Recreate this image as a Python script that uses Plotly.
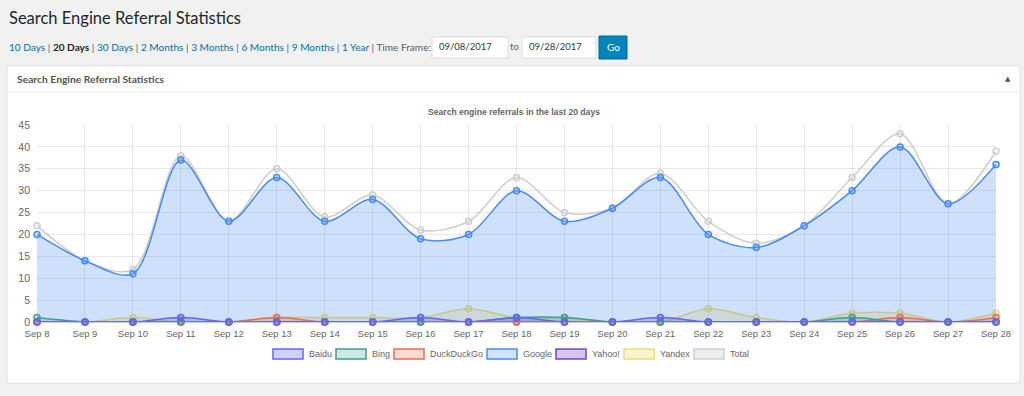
import plotly.graph_objects as go

days = ["Sep 8", "Sep 9", "Sep 10", "Sep 11", "Sep 12", "Sep 13", "Sep 14", "Sep 15", "Sep 16", "Sep 17",
        "Sep 18", "Sep 19", "Sep 20", "Sep 21", "Sep 22", "Sep 23", "Sep 24", "Sep 25", "Sep 26", "Sep 27", "Sep 28"]
baidu = [0, 0, 0, 1, 0, 0, 0, 0, 1, 0, 1, 0, 0, 1, 0, 0, 0, 0, 0, 0, 0]
bing = [1, 0, 0, 0, 0, 0, 0, 0, 0, 0, 1, 1, 0, 0, 0, 0, 0, 1, 0, 0, 0]
duckduckgo = [0, 0, 0, 0, 0, 1, 0, 0, 0, 0, 0, 0, 0, 0, 0, 0, 0, 0, 1, 0, 1]
google = [20, 14, 11, 37, 23, 33, 23, 28, 19, 20, 30, 23, 26, 33, 20, 17, 22, 30, 40, 27, 36]
yahoo = [0, 0, 0, 0, 0, 0, 0, 0, 0, 0, 0, 0, 0, 0, 0, 0, 0, 0, 0, 0, 0]
yandex = [0, 0, 1, 0, 0, 1, 1, 1, 1, 3, 1, 1, 0, 0, 3, 1, 0, 2, 2, 0, 2]
total = [22, 14, 12, 38, 23, 35, 24, 29, 21, 23, 33, 25, 26, 34, 23, 18, 22, 33, 43, 27, 39]

names = ["Baidu", "Bing", "DuckDuckGo", "Google", "Yahoo!", "Yandex", "Total"]
values = [baidu, bing, duckduckgo, google, yahoo, yandex, total]
line_colors = ["rgb(100,100,245)", "rgb(60,160,140)", "rgb(235,110,80)", "rgb(70,140,245)",
               "rgb(120,70,190)", "rgb(240,220,110)", "rgb(205,205,205)"]
fill_colors = ["rgba(100,100,245,0.3)", "rgba(60,160,140,0.25)", "rgba(235,110,80,0.25)",
               "rgba(70,140,245,0.25)", "rgba(120,70,190,0.3)", "rgba(240,220,110,0.3)",
               "rgba(225,225,225,0.1)"]

W, H = 1024, 396
ML, MR, MT, MB = 37, 28, 125, 74
pw, ph = W - ML - MR, H - MT - MB


def px(x):
    return (x - ML) / pw


def py(y):
    return (H - MB - y) / ph


fig = go.Figure()
# draw in reverse so the first dataset ends on top (like Chart.js)
for i in reversed(range(len(names))):
    fig.add_trace(go.Scatter(
        x=days, y=values[i], name=names[i], mode="lines+markers",
        line=dict(color=line_colors[i], width=1.5, shape="spline", smoothing=0.9),
        fill="tozeroy", fillcolor=fill_colors[i],
        marker=dict(size=6, color=fill_colors[i], line=dict(color=line_colors[i], width=1.5)),
        cliponaxis=False, showlegend=False,
    ))

shapes = [
    dict(type="rect", xref="paper", yref="paper", x0=px(7), x1=px(1020), y0=py(66), y1=py(383),
         layer="below", line=dict(color="#e2e4e7", width=1), fillcolor="white"),
    dict(type="line", xref="paper", yref="paper", x0=px(7), x1=px(1020), y0=py(92), y1=py(92),
         layer="below", line=dict(color="#eeeeee", width=1)),
    dict(type="rect", xref="paper", yref="paper", x0=px(432), x1=px(508), y0=py(37), y1=py(58),
         layer="below", line=dict(color="#dddddd", width=1), fillcolor="white"),
    dict(type="rect", xref="paper", yref="paper", x0=px(522), x1=px(596), y0=py(37), y1=py(58),
         layer="below", line=dict(color="#dddddd", width=1), fillcolor="white"),
    dict(type="rect", xref="paper", yref="paper", x0=px(599), x1=px(627), y0=py(36), y1=py(59),
         layer="below", line=dict(color="#006799", width=1), fillcolor="#0085ba"),
]

blue = "#0073aa"
sep = '<span style="color:#555d66"> | </span>'
links = sep.join([
    f'<span style="color:{blue}">10 Days</span>',
    '<b><span style="color:#23282d">20 Days</span></b>',
    f'<span style="color:{blue}">30 Days</span>',
    f'<span style="color:{blue}">2 Months</span>',
    f'<span style="color:{blue}">3 Months</span>',
    f'<span style="color:{blue}">6 Months</span>',
    f'<span style="color:{blue}">9 Months</span>',
    f'<span style="color:{blue}">1 Year</span>',
]) + '<span style="color:#555d66"> | Time Frame:</span>'

ui_font = "Lato"
annotations = [
    dict(text="Search Engine Referral Statistics", x=px(7), y=py(18), xref="paper", yref="paper",
         xanchor="left", yanchor="middle", showarrow=False,
         font=dict(family=ui_font, size=16.5, color="#23282d")),
    dict(text=links, x=px(7), y=py(47), xref="paper", yref="paper", xanchor="left", yanchor="middle",
         showarrow=False, font=dict(family=ui_font, size=10.1, color=blue)),
    dict(text="09/08/2017", x=px(437), y=py(47), xref="paper", yref="paper", xanchor="left", yanchor="middle",
         showarrow=False, font=dict(family=ui_font, size=9.5, color="#32373c")),
    dict(text="to", x=px(514), y=py(47), xref="paper", yref="paper", xanchor="center", yanchor="middle",
         showarrow=False, font=dict(family=ui_font, size=9.5, color="#555d66")),
    dict(text="09/28/2017", x=px(527), y=py(47), xref="paper", yref="paper", xanchor="left", yanchor="middle",
         showarrow=False, font=dict(family=ui_font, size=9.5, color="#32373c")),
    dict(text="Go", x=px(613), y=py(47), xref="paper", yref="paper", xanchor="center", yanchor="middle",
         showarrow=False, font=dict(family=ui_font, size=10, color="white")),
    dict(text="<b>Search Engine Referral Statistics</b>", x=px(15), y=py(79), xref="paper", yref="paper",
         xanchor="left", yanchor="middle", showarrow=False,
         font=dict(family=ui_font, size=10.3, color="#555")),
    dict(text="▲", x=px(1008), y=py(79), xref="paper", yref="paper", xanchor="center", yanchor="middle",
         showarrow=False, font=dict(family="DejaVu Sans", size=7, color="#555")),
    dict(text="<b>Search engine referrals in the last 20 days</b>", x=px(514), y=py(112), xref="paper",
         yref="paper", xanchor="center", yanchor="middle", showarrow=False,
         font=dict(family="Liberation Sans", size=8.6, color="#666")),
]

# Chart.js-style legend: bordered boxes followed by labels
legend_box_x = [273, 336, 394, 487, 556, 624, 694]
for i, name in enumerate(names):
    x0 = legend_box_x[i]
    shapes.append(dict(type="rect", xref="paper", yref="paper", x0=px(x0), x1=px(x0 + 30),
                       y0=py(349), y1=py(359), line=dict(color=line_colors[i], width=1.5),
                       fillcolor=fill_colors[i] if i != 6 else "rgba(225,225,225,0.6)"))
    annotations.append(dict(text=name, x=px(x0 + 34), y=py(354), xref="paper", yref="paper",
                            xanchor="left", yanchor="middle", showarrow=False,
                            font=dict(family="Liberation Sans", size=9, color="#666")))

fig.update_layout(
    width=W, height=H,
    margin=dict(l=ML, r=MR, t=MT, b=MB, pad=0),
    paper_bgcolor="#f1f1f1", plot_bgcolor="rgba(0,0,0,0)",
    font=dict(family="Liberation Sans", size=11, color="#666"),
    shapes=shapes, annotations=annotations,
    showlegend=False,
    xaxis=dict(type="category", range=[0, 20], showgrid=True, gridcolor="rgba(0,0,0,0.09)",
               tickfont=dict(size=9.5, color="#666"), ticks="", ticklabelstandoff=4,
               showline=False, zeroline=False, fixedrange=True),
    yaxis=dict(range=[0, 45], dtick=5, showgrid=True, gridcolor="rgba(0,0,0,0.09)",
               tickfont=dict(size=10.5, color="#666"), zeroline=True, zerolinecolor="rgba(0,0,0,0.2)",
               showline=False, ticks="", ticklabelstandoff=6, fixedrange=True),
)

fig.write_html("out.html", config={"displayModeBar": False},
               post_script="document.body.style.margin='0';document.body.style.overflow='hidden';")
